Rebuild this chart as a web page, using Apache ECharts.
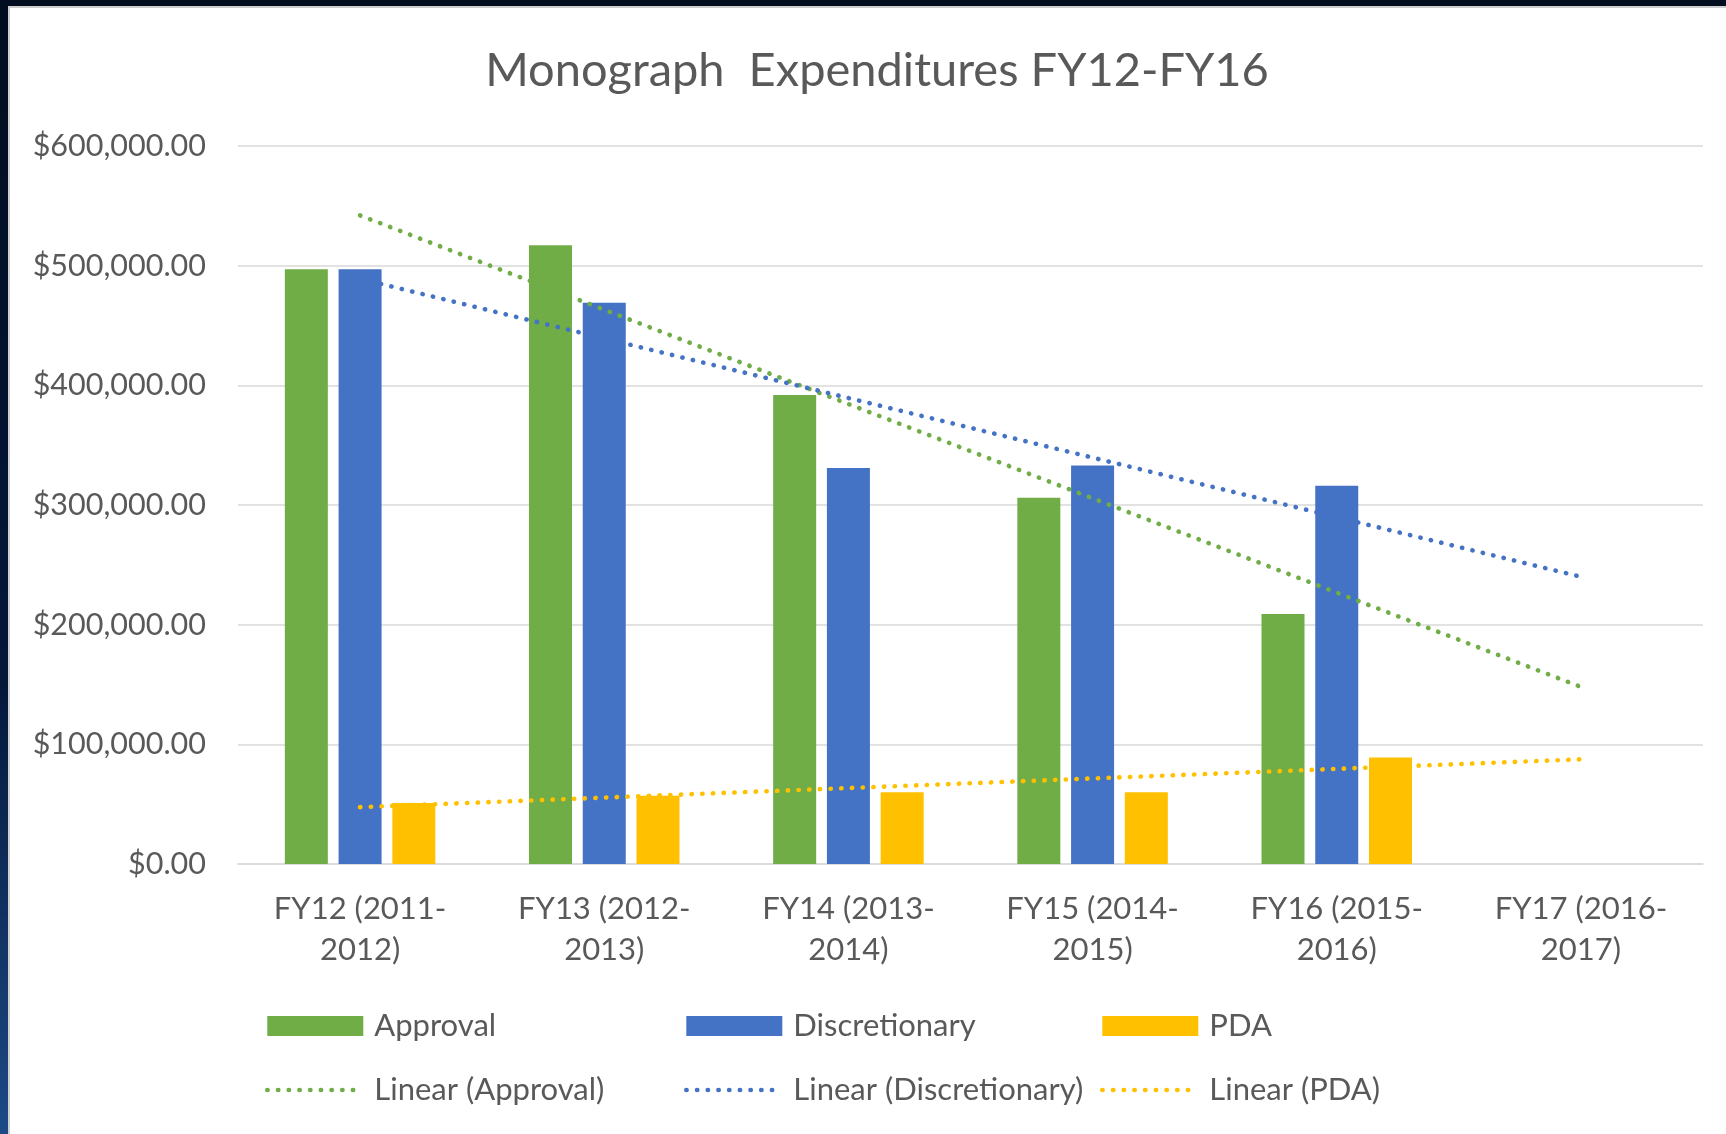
<!DOCTYPE html>
<html>
<head>
<meta charset="utf-8">
<script src="https://cdn.jsdelivr.net/npm/echarts@6/dist/echarts.min.js"></script>
<style>
  html, body { margin: 0; padding: 0; background: #020d1f; }
  #chart { width: 1726px; height: 1134px; }
</style>
</head>
<body>
<div id="chart"></div>
<script>
/* ===== data ===== */
const categories = ["FY12 (2011-\n2012)", "FY13 (2012-\n2013)", "FY14 (2013-\n2014)", "FY15 (2014-\n2015)", "FY16 (2015-\n2016)", "FY17 (2016-\n2017)"];
const approval = [497000, 517000, 392000, 306000, 209000, null];
const discretionary = [497000, 469000, 331000, 333000, 316000, null];
const pda = [51000, 57000, 60000, 60000, 89000, null];

// trendline end points (FY12 and FY17), as drawn by Excel
const approvalTrend = [542000, 148000];
const discretionaryTrend = [489000, 240000];
const pdaTrend = [47500, 87500];

const yTicks = { min: 0, max: 600000, interval: 100000 };

/* ===== style ===== */
const GREEN = "#70AD47", BLUE = "#4472C4", GOLD = "#FFC000";
const TEXT = "#595959", GRID = "#d9d9d9";
const FONT = "Lato, 'Open Sans', sans-serif";
const DOTS = { width: 4.6, type: [0.3, 10.4], cap: "round" };

function money(v) {
    return "$" + v.toLocaleString("en-US", { minimumFractionDigits: 2, maximumFractionDigits: 2 });
}

function trend(name, color, ends) {
    return {
        name: name, type: "line", symbol: "none", z: 5, silent: true,
        lineStyle: Object.assign({ color: color }, DOTS),
        itemStyle: { color: color },
        data: [[categories[0], ends[0]], [categories[categories.length - 1], ends[1]]],
    };
}

function bar(name, color, values) {
    return { name: name, type: "bar", barWidth: 43, barGap: "25%", itemStyle: { color: color }, data: values };
}

const legendText = { color: TEXT, fontSize: 31, fontFamily: FONT, lineHeight: 40, padding: [0, 0, 0, 6] };
function legendCol(x, barName, lineName, color) {
    return {
        orient: "vertical", left: x, top: 1006, padding: 0,
        itemWidth: 96, itemHeight: 20, itemGap: 24,
        textStyle: legendText, selectedMode: false,
        data: [
            { name: barName, icon: "rect" },
            { name: lineName, itemStyle: { opacity: 0 },
              lineStyle: Object.assign({ color: color }, DOTS) },
        ],
    };
}

const chart = echarts.init(document.getElementById("chart"));
chart.setOption({
    backgroundColor: "#ffffff",
    animation: false,
    title: {
        text: "Monograph  Expenditures FY12-FY16",
        left: 877, top: 47, textAlign: "center", padding: 0,
        textStyle: { color: TEXT, fontSize: 47, fontWeight: "normal", fontFamily: FONT },
    },
    graphic: [
        { type: "rect", shape: { x: 0, y: 0, width: 1726, height: 6 }, style: { fill: "#020d1f" } },
        { type: "rect", shape: { x: 0, y: 0, width: 8, height: 1134 },
          style: { fill: new echarts.graphic.LinearGradient(0, 0, 0, 1, [
              { offset: 0, color: "#020d1f" }, { offset: 0.6, color: "#04183a" }, { offset: 1, color: "#1d4a86" }]) } },
        { type: "rect", shape: { x: 8, y: 6, width: 2, height: 1128 }, style: { fill: "#cfcfcf" } },
        { type: "rect", shape: { x: 8, y: 6, width: 1718, height: 2 }, style: { fill: "#cfcfcf" } },
    ],
    grid: { left: 238, right: 23, top: 146, bottom: 270, containLabel: false },
    legend: [
        legendCol(265, "Approval", "Linear (Approval)", GREEN),
        legendCol(684, "Discretionary", "Linear (Discretionary)", BLUE),
        legendCol(1100, "PDA", "Linear (PDA)", GOLD),
    ],
    xAxis: {
        type: "category", data: categories,
        axisLine: { lineStyle: { color: GRID, width: 1.5 } },
        axisTick: { show: false },
        axisLabel: { color: TEXT, fontSize: 31, fontFamily: FONT, lineHeight: 41, margin: 24, interval: 0 },
    },
    yAxis: {
        type: "value", min: yTicks.min, max: yTicks.max, interval: yTicks.interval,
        axisLine: { show: false }, axisTick: { show: false },
        splitLine: { lineStyle: { color: GRID, width: 1.5 } },
        axisLabel: { color: TEXT, fontSize: 30.5, fontFamily: FONT, margin: 32, formatter: money },
    },
    series: [
        bar("Approval", GREEN, approval),
        bar("Discretionary", BLUE, discretionary),
        bar("PDA", GOLD, pda),
        trend("Linear (Approval)", GREEN, approvalTrend),
        trend("Linear (Discretionary)", BLUE, discretionaryTrend),
        trend("Linear (PDA)", GOLD, pdaTrend),
    ],
});
</script>
</body>
</html>
